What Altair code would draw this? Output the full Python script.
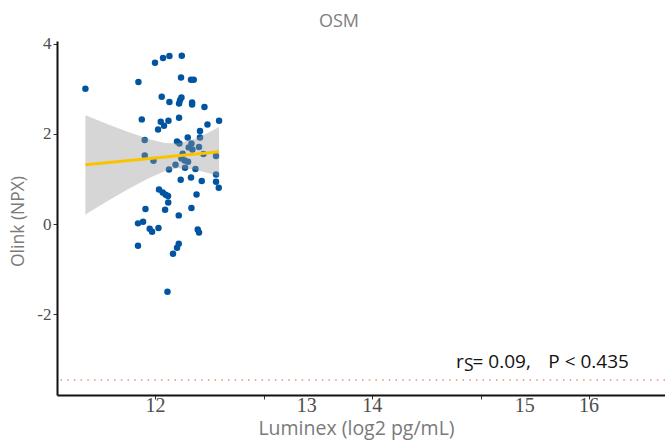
import altair as alt
import pandas as pd

# Luminex (x) and Olink (y) values
lum = [11.354, 11.843, 11.996, 12.070, 12.129, 12.243, 12.236, 12.328, 12.353, 12.058,
       12.129, 12.240, 12.227, 12.218, 12.338, 12.338, 12.452, 11.874, 12.049, 12.120,
       12.079, 12.024, 12.218, 12.587, 12.480, 12.411, 11.901, 12.199, 12.221, 12.298,
       12.411, 12.332, 12.307, 12.341, 12.402, 11.901, 11.982, 12.252, 12.240, 12.270,
       12.301, 12.443, 12.559, 12.185, 12.125, 12.273, 12.369, 12.559, 12.233, 12.328,
       12.427, 12.559, 12.584, 12.033, 12.067, 12.095, 12.116, 12.118, 12.379, 11.908,
       12.089, 12.332, 12.215, 11.839, 11.886, 11.947, 11.969, 12.028, 12.390, 12.402,
       11.839, 12.215, 12.199, 12.162, 12.111]
olink = [3.000, 3.149, 3.576, 3.681, 3.725, 3.732, 3.253, 3.200, 3.200, 2.823,
         2.705, 2.809, 2.749, 2.676, 2.698, 2.654, 2.594, 2.322, 2.268, 2.290,
         2.180, 2.095, 2.357, 2.290, 2.206, 2.062, 1.863, 1.834, 1.789, 1.922,
         1.922, 1.789, 1.701, 1.656, 1.707, 1.523, 1.404, 1.559, 1.457, 1.412,
         1.381, 1.552, 1.508, 1.315, 1.213, 1.248, 1.220, 1.102, 0.982, 1.035,
         0.953, 0.938, 0.805, 0.769, 0.703, 0.650, 0.621, 0.477, 0.654, 0.333,
         0.317, 0.355, 0.193, 0.016, 0.051, -0.104, -0.171, -0.089, -0.118, -0.184,
         -0.481, -0.437, -0.525, -0.659, -1.501]

# fitted line and its confidence band
fit_x = [11.354, 12.587]
fit_y = [1.315, 1.603]
band_x = [11.354, 11.578, 11.763, 11.947, 12.086, 12.206, 12.363, 12.501, 12.587]
band_lo = [0.215, 0.537, 0.792, 1.029, 1.171, 1.237, 1.211, 1.122, 1.053]
band_hi = [2.415, 2.200, 2.029, 1.880, 1.800, 1.792, 1.889, 2.044, 2.153]

x_ticks = [12, 13, 14, 15, 16]
x_label_pos = [12, 13.396, 14, 15.407, 16]
x_labels = ["12", "13", "14", "15", "16"]
y_ticks = [4, 2, 0, -2]
lod = [-3.46]

W, H = 608, 354
PAD_L, PAD_T = 57, 41
TITLE_FONT = "Open Sans"
TICK_FONT = "Liberation Sans Narrow"
GREY = "#7a7a7a"

xs = alt.Scale(domain=[11.092, 16.70], nice=False, zero=False)
ys = alt.Scale(domain=[-3.79, 4.06], nice=False, zero=False)

pts_df = pd.DataFrame({"x": lum, "y": olink})
fit_df = pd.DataFrame({"x": fit_x, "y": fit_y})
band_df = pd.DataFrame({"x": band_x, "y": band_lo, "y2": band_hi})
lab_df = pd.DataFrame({"x": x_label_pos, "lab": x_labels})
lod_df = pd.DataFrame({"y": lod})

x_axis = alt.Axis(values=x_ticks, labels=False, grid=False, title="Luminex (log2 pg/mL)",
                  domainColor="#111111", domainWidth=2, tickColor="#333333", tickSize=4,
                  tickWidth=1, titleFont=TITLE_FONT, titleFontSize=19.5,
                  titleFontWeight="normal", titleColor=GREY, titleX=299, titleY=33,
                  titleBaseline="middle", titleAlign="center")
y_axis = alt.Axis(values=y_ticks, grid=False, title="Olink (NPX)",
                  labelExpr="datum.value + ''",
                  domainColor="#111111", domainWidth=2, tickColor="#333333", tickSize=4,
                  tickWidth=1, labelFont=TICK_FONT, labelFontSize=17, labelColor="#4d4d4d",
                  labelPadding=2, titleFont=TITLE_FONT, titleFontSize=17.5,
                  titleFontWeight="normal", titleColor=GREY, titleX=-39, titleY=180,
                  titleAngle=270, titleBaseline="middle", titleAlign="center")

X = alt.X("x:Q", scale=xs, axis=x_axis)
Y = alt.Y("y:Q", scale=ys, axis=y_axis)

points = alt.Chart(pts_df).mark_circle(size=42, color="#0054a0", opacity=1).encode(x=X, y=Y)

band = alt.Chart(band_df).mark_area(color="#999999", opacity=0.4).encode(
    x=X, y=Y, y2="y2:Q",
)

line = alt.Chart(fit_df).mark_line(color="#f9c300", strokeWidth=3).encode(x=X, y=Y)

lod_rule = alt.Chart(lod_df).mark_rule(color="#f08a80", strokeDash=[1.5, 5.2],
                                        strokeWidth=1.5).encode(y=Y)

xlabels = alt.Chart(lab_df).mark_text(font=TICK_FONT, fontSize=20, color="#4d4d4d",
                                      baseline="middle", align="center").encode(
    x=X,
    y=alt.value(H + 10.5),
    text="lab:N",
)

def txt(s, x, y, size, color="#111111", font=TITLE_FONT):
    return alt.Chart(pd.DataFrame({"t": [s]})).mark_text(
        font=font, fontSize=size, color=color, align="left", baseline="alphabetic"
    ).encode(x=alt.value(x), y=alt.value(y), text="t:N")

title = alt.Chart(pd.DataFrame({"t": ["OSM"]})).mark_text(
    font=TITLE_FONT, fontSize=18, color="#808080", align="center", baseline="alphabetic"
).encode(x=alt.value(339 - PAD_L), y=alt.value(26.5 - PAD_T), text="t:N")

ann = [
    txt("r", 456 - PAD_L, 368 - PAD_T, 19),
    txt("S", 464 - PAD_L, 371 - PAD_T, 17.5),
    txt("= 0.09,", 472.5 - PAD_L, 368 - PAD_T, 19),
    txt("P < 0.435", 548.3 - PAD_L, 368 - PAD_T, 19),
]

chart = alt.layer(points, band, line, lod_rule, xlabels, title, *ann).properties(
    width=W, height=H,
    autosize=alt.AutoSizeParams(type="none"),
    padding={"left": PAD_L, "top": PAD_T, "right": 665 - PAD_L - W, "bottom": 441 - PAD_T - H},
).configure_view(stroke=None)

chart.save("out.html", embed_options={"renderer": "svg", "actions": False})
